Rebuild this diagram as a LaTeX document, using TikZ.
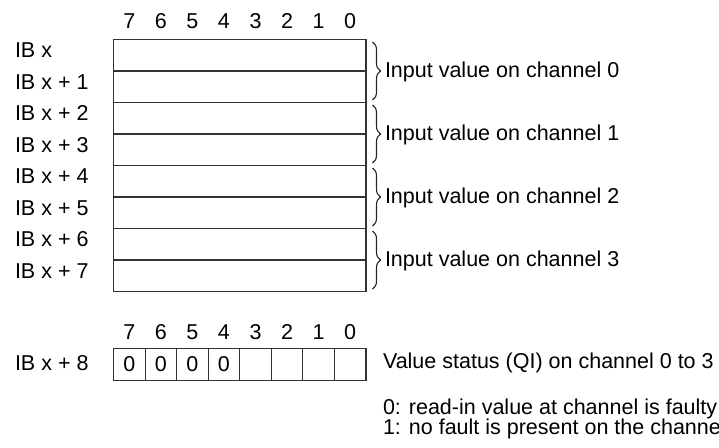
\documentclass[tikz,border=0pt]{standalone}
\usepackage{fontspec}
\setmainfont{Liberation Sans}
\usetikzlibrary{decorations.pathreplacing}
\begin{document}
\begin{tikzpicture}[x=1pt,y=-1pt,
  every node/.style={inner sep=0pt,outer sep=0pt,font=\fontsize{21.5}{25}\selectfont},
  grp/.style={draw=black!80,line width=1.1pt},
  sep/.style={draw=black!80,line width=1.1pt},
  brc/.style={draw=black!85,line width=1.1pt,decorate,decoration={brace,amplitude=8pt}},
  lbl/.style={anchor=base west},
  dig/.style={anchor=base},
  txt/.style={anchor=west}]
\useasboundingbox (0,0) rectangle (719,447);
% header digits
\foreach \d [count=\i from 0] in {7,6,5,4,3,2,1,0}
  \node[dig] (h\i) at ({113.5+31.56*(\i+0.5)},28) {\d};
% four groups of two bytes
\foreach \g in {0,1,2,3}{
  \pgfmathsetmacro{\yt}{39.5+63*\g}
  \pgfmathsetmacro{\ym}{39.5+63*\g+31.5}
  \pgfmathsetmacro{\yb}{39.5+63*\g+63}
  \node[grp,minimum width=252.5pt,minimum height=63pt,anchor=north west] (g\g) at (113.5,\yt) {};
  \draw[sep] (g\g.west) -- (g\g.east);
  \coordinate (bt\g) at (372.5,\yt+2.5);
  \coordinate (bb\g) at (372.5,\yb-2.5);
  \draw[brc] (bt\g) -- (bb\g);
  \node[txt] (c\g) at (385,\ym+1) {Input value on channel \g};
}
% byte labels
\foreach \t [count=\i from 0] in {IB x,IB x + 1,IB x + 2,IB x + 3,IB x + 4,IB x + 5,IB x + 6,IB x + 7}
  \node[lbl] (ib\i) at (15,{57.7+31.5*\i}) {\t};
% bottom header digits
\foreach \d [count=\i from 0] in {7,6,5,4,3,2,1,0}
  \node[dig] (k\i) at ({113.5+31.56*(\i+0.5)},339) {\d};
% status byte cells
\foreach \v [count=\i from 0] in {0,0,0,0,{},{},{},{}}
  \node[grp,minimum width=31.56pt,minimum height=31.7pt] (s\i) at ({113.5+31.56*(\i+0.5)},364.2) {\v};
\node[lbl] (ib8) at (15,370.7) {IB x + 8};
\node[lbl] (vs) at (383,368) {Value status (QI) on channel 0 to 3};
\node[lbl] (l0) at (383,414) {0: read-in value at channel is faulty};
\node[lbl] (l1) at (383,434.5) {1: no fault is present on the channel};
\end{tikzpicture}
\end{document}
